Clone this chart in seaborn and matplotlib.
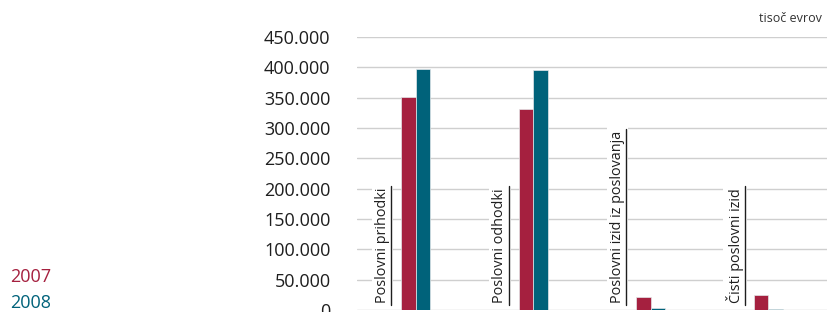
import matplotlib
matplotlib.use("Agg")
import matplotlib.pyplot as plt
import seaborn as sns
import pandas as pd
from matplotlib.lines import Line2D
from matplotlib.transforms import IdentityTransform

# Chart data (thousand EUR)
categories = ["Poslovni prihodki", "Poslovni odhodki",
              "Poslovni izid iz poslovanja", "Čisti poslovni izid"]
years = ["2007", "2008"]
values_2007 = [351000, 331000, 21000, 24000]
values_2008 = [398000, 396000, 3000, 1000]
y_ticks = [0, 50000, 100000, 150000, 200000, 250000, 300000, 350000, 400000, 450000]
unit_label = "tisoč evrov"
colors = ["#A5203F", "#00627A"]

df = pd.DataFrame({
    "category": categories * 2,
    "year": [years[0]] * len(categories) + [years[1]] * len(categories),
    "value": values_2007 + values_2008,
})

sns.set_theme(style="white")
plt.rcParams["font.family"] = ["Open Sans", "DejaVu Sans"]

W, H = 827, 312
fig = plt.figure(figsize=(W / 100, H / 100), dpi=100)
ax = fig.add_axes([357 / W, 2 / H, 470 / W, 273 / H])

sns.barplot(data=df, x="category", y="value", hue="year", palette=colors,
            width=0.25, ax=ax, legend=False, edgecolor="#e4e8ea", linewidth=0.5,
            saturation=1)

ax.set_xlim(-0.5, len(categories) - 0.5)
ax.set_ylim(0, 450000)
ax.set_yticks(y_ticks)
ax.set_yticklabels([f"{v:,}".replace(",", ".") for v in y_ticks])
ax.tick_params(axis="y", length=0, pad=19, labelsize=13, labelcolor="#1e1e1e")
ax.set_xticks([])
ax.set_xlabel("")
ax.set_ylabel("")
ax.grid(axis="y", color="#cfcfcf", linewidth=1)
ax.set_axisbelow(True)
sns.despine(ax=ax, left=True, bottom=True)

# category labels, rotated, sitting left of each bar pair
labels = []
for i, cat in enumerate(categories):
    t = ax.annotate(cat, xy=(i - 0.283, 0), xytext=(0, 7), textcoords="offset pixels",
                    rotation=90, ha="center", va="bottom", fontsize=10.4, color="#1e1e1e",
                    bbox=dict(facecolor="white", edgecolor="none", pad=2.5))
    labels.append(t)

fig.canvas.draw()
renderer = fig.canvas.get_renderer()
for t in labels:
    bb = t.get_window_extent(renderer)
    x = bb.x1 + 1.5
    fig.add_artist(Line2D([x, x], [bb.y0 - 2, bb.y1 + 2], color="#1e1e1e",
                          linewidth=1, transform=IdentityTransform()))

fig.text(822 / W, 1 - 19 / H, unit_label, ha="right", va="center",
         fontsize=9, color="#333333")
fig.text(10 / W, 1 - 276.5 / H, years[0], ha="left", va="center",
         fontsize=13, color=colors[0])
fig.text(10 / W, 1 - 303 / H, years[1], ha="left", va="center",
         fontsize=13, color=colors[1])

fig.savefig("out.png", dpi=100)
